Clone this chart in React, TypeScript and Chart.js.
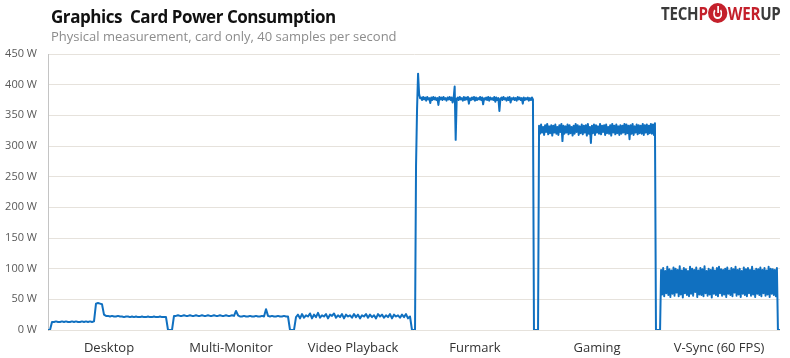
import React, { useEffect, useRef } from "react";
import { Chart, registerables } from "chart.js";

Chart.register(...registerables);

const categories = ["Desktop", "Multi-Monitor", "Video Playback", "Furmark", "Gaming", "V-Sync (60 FPS)"];
const yTickValues = [0, 50, 100, 150, 200, 250, 300, 350, 400, 450];
const yUnit = "W";
const SEG = 100;

const desktop = [
  0, 0, 13,
  13, 14, 13, 13, 14, 13, 14, 13, 13, 14, 13, 14, 13, 13, 14, 13, 14, 13, 14, 13, 14,
  43, 44, 43, 42,
  25,
  23, 23, 22, 23, 22, 22, 23, 22, 22, 21, 22, 22, 21, 22, 21, 22, 21, 21, 22, 21, 21, 22, 21, 21, 22, 21, 21, 22, 21, 21, 21,
  0, 0,
];

const multiMonitor = [
  0, 0,
  23, 23, 24, 23, 23, 24, 23, 23, 24, 23, 23, 24, 23, 23, 24, 23, 23, 24, 23, 23, 24, 23, 23, 24, 23, 23, 24, 23, 23, 24, 23,
  31, 24,
  22, 22, 23, 22, 22, 23, 22, 22, 23, 22, 22, 23, 22,
  34, 23,
  22, 23, 22, 22, 23, 22, 22, 23, 22,
  22,
  0, 0,
];

const videoPlayback = [
  0, 0,
  21, 25, 19, 26, 20, 24, 22, 27, 19, 25, 21, 28, 20, 24, 22, 26, 19, 25, 23, 27, 20, 24, 21, 26, 19, 25, 22, 24,
  20, 26, 21, 25, 19, 24, 22, 26, 20, 25, 21, 24, 19, 26, 22, 25, 20, 24, 21, 26, 19, 25, 22, 24, 20, 25, 21, 26, 19,
  22,
  0, 0,
];

const furmark = [
  0, 0, 268, 360, 418, 385, 378,
  379, 375, 380, 376, 379, 374, 380, 376, 378, 370, 379, 375, 380, 376, 379, 375, 378, 367, 380, 376, 379, 375,
  380, 376, 378, 374, 379, 376, 380, 375, 379, 371, 378,
  397, 310, 377,
  379, 375, 380, 376, 378, 374, 380, 375, 379, 376, 380, 369, 378, 375, 379, 376, 380, 374, 379, 375, 378, 376,
  380, 375, 379, 368, 378, 376, 379, 375, 380, 374, 379, 376, 378, 375, 380, 372, 379, 375, 378,
  357, 377,
  379, 375, 380, 376, 378, 374, 379, 375, 380, 371, 378, 376, 379, 375, 378, 374, 380, 376, 379, 375, 378, 369,
  379, 375, 378, 376, 379, 374, 378, 375, 379, 376,
  0, 0, 0,
];

const gaming = [
  0, 0, 0,
  333, 320, 335, 322, 331, 318, 334, 323, 336, 319, 332, 321, 334, 317, 333, 322, 335, 320, 331, 318, 334, 323,
  336, 308, 333, 320, 332, 322, 335, 319, 334, 321, 331, 317, 333, 320, 336, 323, 334, 318, 332, 321, 335, 319,
  333, 322, 334, 317, 336, 320, 331, 305, 333, 321, 335, 318, 334, 322, 332, 320, 336, 319, 333, 323, 334, 318,
  335, 321, 331, 320, 334, 317, 336, 322, 333, 319, 335, 321, 332, 318, 334, 320, 333, 322, 336, 319, 335, 321,
  333, 311, 334, 320, 336, 318, 332, 322, 335, 319, 334, 321, 333, 320, 336, 318, 334, 322, 335, 319, 333, 321,
  336, 320, 335, 318, 337,
  0, 0, 0,
];

const vsync = [
  0, 0, 0,
  98, 58, 101, 55, 96, 60, 103, 57, 99, 54, 97, 59, 102, 56, 100, 61, 98, 55, 104, 58, 97, 53, 101, 60, 99, 57,
  96, 55, 103, 59, 100, 56, 98, 62, 102, 54, 97, 58, 101, 57, 99, 55, 104, 60, 96, 56, 100, 58, 98, 53, 102, 59,
  97, 57, 101, 55, 103, 60, 99, 56, 98, 58, 100, 54, 102, 59, 97, 57, 101, 55, 99, 61, 103, 56, 98, 58, 100, 54,
  96, 59, 102, 57, 99, 55, 101, 60, 98, 56, 103, 58, 97, 54, 100, 59, 99, 57, 102, 55, 98, 60, 101, 56, 97, 58,
  103, 54, 100, 59, 99, 57, 98, 55, 101,
  0, 0, 0,
];

const segments = [desktop, multiMonitor, videoPlayback, furmark, gaming, vsync];

function buildPoints() {
  const pts: { x: number; y: number }[] = [];
  segments.forEach((seg, k) => {
    const step = SEG / (seg.length - 1);
    seg.forEach((v, i) => pts.push({ x: k * SEG + i * step, y: v }));
  });
  return pts;
}

const FONT = "'Open Sans', 'Noto Sans', sans-serif";

export default function App() {
  const ref = useRef<HTMLCanvasElement | null>(null);

  useEffect(() => {
    document.body.style.margin = "0";
    const canvas = ref.current;
    if (!canvas) return;
    const chart = new Chart(canvas, {
      type: "line",
      data: {
        datasets: [
          {
            data: buildPoints(),
            borderColor: "#1070c0",
            borderWidth: 2,
            borderJoinStyle: "round",
            pointRadius: 0,
            tension: 0,
            fill: false,
          },
        ],
      },
      options: {
        animation: false,
        responsive: false,
        devicePixelRatio: 1,
        layout: { padding: { top: 54, right: 10, bottom: 0, left: 0 } },
        plugins: { legend: { display: false }, tooltip: { enabled: false }, title: { display: false } },
        scales: {
          x: {
            type: "linear",
            min: 0,
            max: SEG * categories.length,
            grid: { display: false, drawTicks: false },
            border: { display: false },
            afterBuildTicks: (s: any) => {
              s.ticks = categories.map((_, i) => ({ value: i * SEG + SEG / 2 }));
            },
            afterFit: (s: any) => {
              s.height = 28;
            },
            ticks: {
              autoSkip: false,
              maxRotation: 0,
              padding: 10,
              color: "#333333",
              font: { family: FONT, size: 13 },
              callback: (v: any) => categories[Math.round((Number(v) - SEG / 2) / SEG)] ?? "",
            },
          },
          y: {
            min: yTickValues[0],
            max: yTickValues[yTickValues.length - 1],
            afterBuildTicks: (s: any) => {
              s.ticks = yTickValues.map((v) => ({ value: v }));
            },
            afterFit: (s: any) => {
              s.width = 48;
            },
            grid: { color: "#e6e2dc", drawTicks: false, lineWidth: 1 },
            border: { color: "#c4c4c4" },
            ticks: {
              padding: 11,
              color: "#595959",
              font: { family: FONT, size: 11 },
              callback: (v: any) => `${v} ${yUnit}`,
            },
          },
        },
      },
    });
    return () => chart.destroy();
  }, []);

  return (
    <div style={{ position: "relative", width: 790, height: 358, background: "#ffffff", overflow: "hidden" }}>
      <canvas ref={ref} width={790} height={358} style={{ position: "absolute", left: 0, top: 0 }} />
      <div
        style={{
          position: "absolute",
          left: 51,
          top: 5,
          fontFamily: FONT,
          fontWeight: 700,
          fontSize: 17,
          color: "#111111",
          whiteSpace: "pre",
          letterSpacing: -0.45,
        }}
      >
        Graphics  Card Power Consumption
      </div>
      <div
        style={{
          position: "absolute",
          left: 51,
          top: 27,
          fontFamily: FONT,
          fontSize: 13,
          color: "#8c8c8c",
          whiteSpace: "pre",
        }}
      >
        Physical measurement, card only, 40 samples per second
      </div>
      <div
        style={{
          position: "absolute",
          left: 661,
          top: 1,
          height: 24,
          display: "flex",
          alignItems: "center",
          fontFamily: FONT,
          fontWeight: 700,
          fontSize: 18,
          transform: "scaleX(0.84)",
          transformOrigin: "left center",
          letterSpacing: -0.3,
          whiteSpace: "pre",
        }}
      >
        <span style={{ color: "#3a3a3a" }}>TECH</span>
        <span style={{ color: "#c4202b" }}>P</span>
        <span
          style={{
            position: "relative",
            display: "inline-block",
            width: 23,
            height: 20,
            borderRadius: "50%",
            background: "#c4202b",
            margin: "0 0.5px",
          }}
        >
          <span
            style={{
              position: "absolute",
              left: 6,
              top: 5,
              width: 7,
              height: 7,
              borderRadius: "50%",
              border: "2px solid #ffffff",
              borderTopColor: "transparent",
            }}
          />
          <span
            style={{
              position: "absolute",
              left: 10.5,
              top: 3,
              width: 2,
              height: 7,
              background: "#ffffff",
            }}
          />
        </span>
        <span style={{ color: "#c4202b" }}>WER</span>
        <span style={{ color: "#3a3a3a" }}>UP</span>
      </div>
    </div>
  );
}
